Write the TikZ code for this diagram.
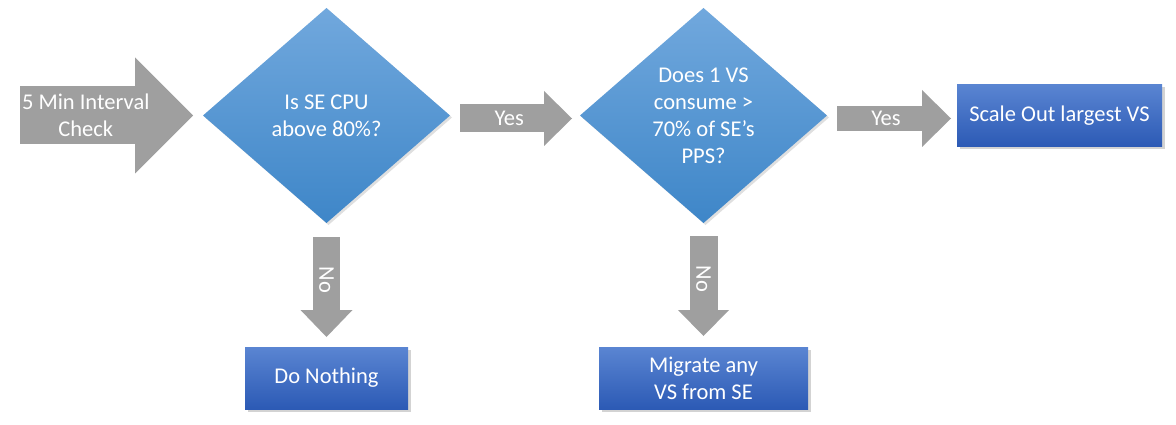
\documentclass[tikz,border=0pt]{standalone}
\usepackage{fontspec}
\setmainfont{Carlito}
\usetikzlibrary{arrows.meta,shapes.geometric,positioning,shadows}
\definecolor{diatop}{HTML}{71A8DD}
\definecolor{diabot}{HTML}{3E86C8}
\definecolor{boxtop}{HTML}{5A85D2}
\definecolor{boxbot}{HTML}{2C5AB5}
\definecolor{fatgray}{HTML}{9F9F9F}
\tikzset{
  base/.style={font=\fontsize{22.5}{27}\selectfont, align=center, text=white, inner sep=0pt, outer sep=0mm},
  decision/.style={diamond, shape aspect=1.15, minimum width=247pt, minimum height=215pt, top color=diatop, bottom color=diabot, drop shadow={shadow xshift=2pt, shadow yshift=-2pt, opacity=.25}, base},
  action/.style={rectangle, minimum height=62pt, top color=boxtop, bottom color=boxbot, drop shadow={shadow xshift=3pt, shadow yshift=-3pt, opacity=.35}, base},
  fat/.style n args={3}{draw=fatgray, line width=#1, line cap=butt, -{Triangle[length=#3, width=#2, line width=0pt]}}
}

\begin{document}
\begin{tikzpicture}[x=1pt, y=-1pt, node distance=124pt and 130pt]
    \useasboundingbox (0,0) rectangle (1176,425);

    \node[decision] (cpu) at (326.5,115.5) {Is SE CPU\\above 80\%?};
    \node[decision, right=of cpu] (pps) {Does 1 VS\\consume >\\70\% of SE’s\\PPS?};
    \node[action, minimum width=205pt, right=of pps] (scale) {Scale Out largest VS};
    \node[action, minimum width=163pt, below=of cpu] (idle) {Do Nothing};
    \node[action, minimum width=209pt, below=of pps] (migrate) {Migrate any\\VS from SE};
    \coordinate (tick) at ([xshift=-183pt]cpu.west);

    \draw[fat={58pt}{116pt}{58pt}] (tick) -- ([xshift=-10pt]cpu.west) node[base, pos=.38] {5 Min Interval\\Check};
    \draw[fat={28pt}{55pt}{28pt}] ([shift={(10,3)}]cpu.east) -- ([shift={(-8,3)}]pps.west) node[base, pos=.44] {Yes};
    \draw[fat={25pt}{57pt}{29pt}] ([shift={(10,3)}]pps.east) -- ([shift={(-6,3)}]scale.west) node[base, pos=.43] {Yes};
    \draw[fat={27pt}{52pt}{27pt}] ([shift={(0,14)}]cpu.south) -- ([shift={(0,-10)}]idle.north) node[base, pos=.43, rotate=-90] {No};
    \draw[fat={28pt}{51pt}{26pt}] ([shift={(0,13)}]pps.south) -- ([shift={(0,-11)}]migrate.north) node[base, pos=.43, rotate=-90] {No};
  \end{tikzpicture}
\end{document}
